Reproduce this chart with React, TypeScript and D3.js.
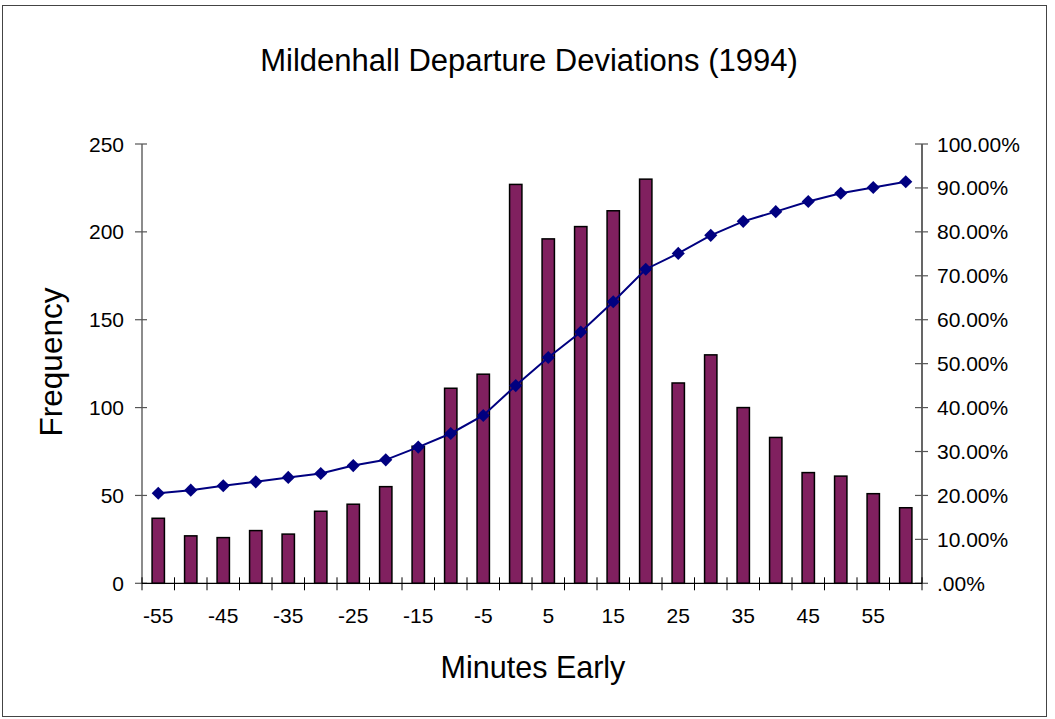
import React from "react";
import * as d3 from "d3";

const minutes = [-55, -50, -45, -40, -35, -30, -25, -20, -15, -10, -5, 0, 5, 10, 15, 20, 25, 30, 35, 40, 45, 50, 55, 60];
const frequency = [37, 27, 26, 30, 28, 41, 45, 55, 78, 111, 119, 227, 196, 203, 212, 230, 114, 130, 100, 83, 63, 61, 51, 43];
const cumulativePct = [20.5, 21.2, 22.2, 23.1, 24.1, 25.0, 26.8, 28.1, 31.0, 34.1, 38.2, 45.0, 51.4, 57.2, 64.1, 71.5, 75.1, 79.2, 82.4, 84.6, 86.9, 88.8, 90.1, 91.4];
const leftTicks = [0, 50, 100, 150, 200, 250];
const rightTicks = [0, 10, 20, 30, 40, 50, 60, 70, 80, 90, 100];
const xTickLabels = [-55, -45, -35, -25, -15, -5, 5, 15, 25, 35, 45, 55];

const W = 1055;
const H = 719;
const FONT = "'Liberation Sans', Arial, sans-serif";

export default function App() {
  const left = 142;
  const right = 922;
  const top = 144;
  const bottom = 583.3;

  const x = d3.scaleBand<number>().domain(minutes).range([left, right]).padding(0);
  const y = d3.scaleLinear().domain([0, 250]).range([bottom, top]);
  const y2 = d3.scaleLinear().domain([0, 100]).range([bottom, top]);
  const cx = (m: number) => (x(m) as number) + x.bandwidth() / 2;
  const barW = x.bandwidth() * 0.38;

  const line = d3
    .line<number>()
    .x((_, i) => cx(minutes[i]))
    .y((d) => y2(d));

  const fmtPct = (v: number) => (v === 0 ? ".00%" : v.toFixed(2) + "%");

  const diamond = d3.symbol().type(d3.symbolDiamond2).size(110)();

  return (
    <svg
      width={W}
      height={H}
      style={{ position: "absolute", left: 0, top: 0, background: "#fff" }}
      fontFamily={FONT}
    >
      <rect x={2.5} y={5.5} width={1044} height={711} fill="#fff" stroke="#444" strokeWidth={1} />
      <text x={529} y={71} fontSize={31} textAnchor="middle" fill="#000">
        Mildenhall Departure Deviations (1994)
      </text>

      {/* bars */}
      {frequency.map((v, i) => (
        <rect
          key={i}
          x={cx(minutes[i]) - barW / 2}
          y={y(v)}
          width={barW}
          height={bottom - y(v)}
          fill="#80205F"
          stroke="#000"
          strokeWidth={1.5}
        />
      ))}

      {/* left axis */}
      <line x1={left} x2={left} y1={top} y2={bottom} stroke="#666" strokeWidth={1.5} />
      {leftTicks.map((t) => (
        <g key={t}>
          <line x1={left - 7} x2={left + 5} y1={y(t)} y2={y(t)} stroke="#555" strokeWidth={1.2} />
          <text x={124} y={y(t)} dy="0.36em" fontSize={21} textAnchor="end" fill="#000">
            {t}
          </text>
        </g>
      ))}

      {/* right axis */}
      <line x1={right} x2={right} y1={top} y2={bottom} stroke="#000" strokeWidth={1.2} />
      {rightTicks.map((t) => (
        <g key={t}>
          <line x1={right - 7} x2={right + 6} y1={y2(t)} y2={y2(t)} stroke="#555" strokeWidth={1.2} />
          <text x={937} y={y2(t)} dy="0.36em" fontSize={21} textAnchor="start" fill="#000">
            {fmtPct(t)}
          </text>
        </g>
      ))}

      {/* bottom axis */}
      <line x1={left} x2={right} y1={bottom} y2={bottom} stroke="#000" strokeWidth={1.2} />
      {minutes.map((m) => (
        <line
          key={m}
          x1={(x(m) as number) + x.bandwidth()}
          x2={(x(m) as number) + x.bandwidth()}
          y1={bottom - 6}
          y2={bottom + 7}
          stroke="#000"
          strokeWidth={1}
        />
      ))}
      <line x1={left} x2={left} y1={bottom - 6} y2={bottom + 7} stroke="#000" strokeWidth={1} />
      {xTickLabels.map((m) => (
        <text key={m} x={cx(m)} y={623} fontSize={21} textAnchor="middle" fill="#000">
          {m}
        </text>
      ))}

      {/* cumulative line */}
      <path d={line(cumulativePct) as string} fill="none" stroke="#000080" strokeWidth={2} />
      {cumulativePct.map((v, i) => (
        <path key={i} d={diamond as string} transform={`translate(${cx(minutes[i])},${y2(v)})`} fill="#000080" />
      ))}

      <text
        transform={`translate(62,362) rotate(-90)`}
        fontSize={31.5}
        textAnchor="middle"
        fill="#000"
      >
        Frequency
      </text>
      <text x={533} y={678} fontSize={30.5} textAnchor="middle" fill="#000">
        Minutes Early
      </text>
    </svg>
  );
}
